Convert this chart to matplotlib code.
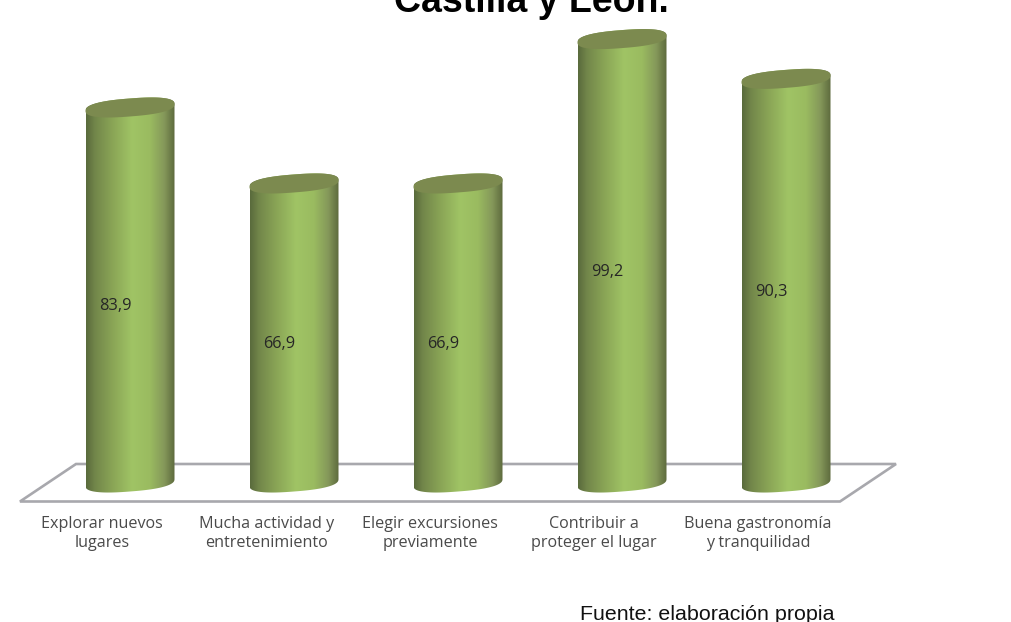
import numpy as np
import matplotlib
matplotlib.use("Agg")
import matplotlib.pyplot as plt
from matplotlib.colors import LinearSegmentedColormap
from matplotlib.patches import Polygon, PathPatch
from matplotlib.path import Path

categories = [
    "Explorar nuevos\nlugares",
    "Mucha actividad y\nentretenimiento",
    "Elegir excursiones\npreviamente",
    "Contribuir a\nproteger el lugar",
    "Buena gastronomía\ny tranquilidad",
]
values = [83.9, 66.9, 66.9, 99.2, 90.3]
value_labels = ["83,9", "66,9", "66,9", "99,2", "90,3"]
title_text = "Castilla y León."
source_text = "Fuente: elaboración propia"

# ---- Scales: how many pixels one category / one unit takes ----
W, H = 1012, 622
PX_PER_CAT = 164.0
PX_PER_UNIT = 4.47
X0_PX = 130.0
Y0_PX = 482.5


def to_data(px, py):
    return (px - X0_PX) / PX_PER_CAT, (Y0_PX - py) / PX_PER_UNIT


fig = plt.figure(figsize=(W / 100, H / 100), dpi=100, facecolor="white")
ax = fig.add_axes([0, 0, 1, 1])
ax.axis("off")

# ---- Floor of the 3D chart ----
floor = [to_data(*p) for p in [(20, 501.5), (840, 501.5), (896, 464), (76, 464)]]
ax.add_patch(Polygon(floor, closed=True, fill=False, edgecolor="#a8a8ad", lw=1.9, zorder=1))

# ---- Cylinders ----
shade = LinearSegmentedColormap.from_list(
    "cyl",
    [(0.0, "#596a3c"), (0.1, "#72864a"), (0.3, "#8aa556"), (0.52, "#a0c465"),
     (0.72, "#9abb60"), (0.88, "#85985a"), (1.0, "#5d6a3d")],
)
gradient = np.linspace(0, 1, 256).reshape(1, -1)
half_w = 44.5 / PX_PER_CAT
t = np.linspace(0, 2 * np.pi, 181)


def rim(x, y, angles):
    # rounded tilted ellipse, right side higher than the left
    c = np.cos(angles)
    s = np.sin(angles)
    ux = np.sign(c) * np.abs(c) ** 0.8
    uy = np.sign(s) * np.abs(s) ** 0.8
    dy = (9.0 * uy + 3.4 * ux) / PX_PER_UNIT
    return np.column_stack([x + half_w * ux, y + dy])


for i, v in enumerate(values):
    lower = rim(i, 0, np.linspace(np.pi, 2 * np.pi, 60))
    upper = rim(i, v, np.linspace(0, np.pi, 60))
    outline = np.vstack([lower, upper, lower[:1]])
    body = PathPatch(Path(outline), transform=ax.transData, fc="none", ec="none")
    ax.add_patch(body)
    im = ax.imshow(gradient, cmap=shade, aspect="auto", zorder=2, interpolation="bilinear",
                   extent=[i - half_w, i + half_w, -3, v + 3])
    im.set_clip_path(body)
    ax.add_patch(Polygon(rim(i, v, t), closed=True, fc="#7c8a4f", ec="none", zorder=3))

    ax.annotate(value_labels[i], (i, v / 2), xytext=(-10.8, -7.8), textcoords="offset points",
                ha="center", va="center", fontsize=11.8, family="Open Sans", color="#262626", zorder=4)
    ax.annotate(categories[i], (i, 0), xytext=(-20, -36.6), textcoords="offset points",
                ha="center", va="center", fontsize=11.6, family="Open Sans", color="#4a4a4a",
                linespacing=1.22)

# imshow changes the limits, set them last
ax.set_xlim(to_data(0, 0)[0], to_data(W, 0)[0])
ax.set_ylim(to_data(0, H)[1], to_data(0, 0)[1])

fig.text(531 / W, 1 - 12 / H, title_text, ha="center", va="baseline", fontsize=27,
         fontweight="bold", family="Liberation Sans", color="black")
fig.text(707.5 / W, 1 - 620 / H, source_text, ha="center", va="baseline", fontsize=15.4,
         family="Liberation Sans", color="#111111")

fig.savefig("out.png", dpi=100, facecolor="white")
